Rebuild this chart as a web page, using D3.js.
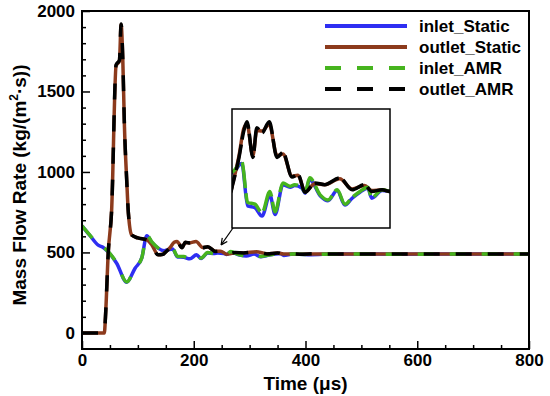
<!DOCTYPE html>
<html><head><meta charset="utf-8">
<script src="https://cdn.jsdelivr.net/npm/d3@7"></script>
<style>body{margin:0;background:#fff}svg{display:block}text{font-family:"Liberation Sans",Arial,sans-serif;font-weight:bold}</style>
</head><body><svg id="c" width="550" height="396"></svg>
<script>
// ---- data (time in µs, mass flow rate in kg/(m²·s)) ----
const inletAMR_t = [0,14,29,38,47,62,80,95,107,116,125,136,147,162,171,182,193,205,213,225,236,243,254,259,266,282,294,308,320,331,343,355,361,377,389,410,450,500,560,650,800];
const inletAMR_v = [665,608,547,532,505,435,317,404,466,608,565,528,512,524,476,474,464,489,465,499,495,497,494,488,505,485,479,491,474,482,489,494,482,491,489,487,490,491,489,490,490];
const inletStatic_t = [0,14,29,38,47,62,80,95,107,116,125,136,147,162,171,182,193,205,213,225,236,243,254,259,266,282,294,308,320,331,343,355,361,377,389,410,450,500,560,650,800];
const inletStatic_v = [665,606,545,531,503,433,315,402,466,604,563,527,511,522,472,470,460,485,462,497,494,496,493,487,503,484,478,490,473,481,488,493,481,490,489,486,490,490,489,490,490];
const outletAMR_t = [0,40,42,47,53,61,67,70,73,76,80,83,89,100,116,125,136,145,148,158,165,170,179,185,193,204,216,225,239,248,259,274,289,312,331,350,361,377,389,420,460,520,600,700,800];
const outletAMR_v = [0,0,100,500,760,1665,1695,1919,1700,1280,950,745,608,590,578,547,485,488,497,530,560,571,529,564,558,571,529,535,506,509,488,499,497,505,491,497,489,491,489,492,490,491,490,490,490];
const outletStatic_t = [0,40,42,47,53,61,67,70,73,76,80,83,89,100,116,125,136,145,148,158,165,170,179,185,193,204,216,225,239,248,259,274,289,312,331,350,361,377,389,420,460,520,600,700,800];
const outletStatic_v = [0,0,100,500,760,1660,1690,1915,1700,1280,950,745,608,590,578,547,486,489,498,532,563,568,531,561,560,568,531,533,507,508,489,498,497,504,492,496,490,491,489,491,490,491,490,490,490];
const xTicks = [0,200,400,600,800];
const yTicks = [0,500,1000,1500,2000];
const seriesNames = ["inlet_Static","outlet_Static","inlet_AMR","outlet_AMR"];

const zip = (t,v)=>t.map((d,i)=>[d,v[i]]);
const series = [
  {name:seriesNames[0], data:zip(inletStatic_t,inletStatic_v), color:"#2e2ef2", dash:null, idash:null},
  {name:seriesNames[1], data:zip(outletStatic_t,outletStatic_v), color:"#8c3a1c", dash:null, idash:null},
  {name:seriesNames[2], data:zip(inletAMR_t,inletAMR_v), color:"#46b41e", dash:"16,16", idash:"26,5"},
  {name:seriesNames[3], data:zip(outletAMR_t,outletAMR_v), color:"#000000", dash:"16,16", idash:"26,5"}
];

const svg = d3.select("#c");
const L=82,R=529,T=11,B=349;
const x = d3.scaleLinear().domain([0,800]).range([L,R]);
const y = d3.scaleLinear().domain([-100,2000]).range([B,T]);

svg.append("clipPath").attr("id","mainclip").append("rect").attr("x",L).attr("y",T).attr("width",R-L).attr("height",B-T);

const line = (xs,ys)=>d3.line().x(d=>xs(d[0])).y(d=>ys(d[1])).curve(d3.curveMonotoneX);

const g = svg.append("g").attr("clip-path","url(#mainclip)");
series.forEach(s=>{
  g.append("path").attr("d",line(x,y)(s.data)).attr("fill","none")
   .attr("stroke",s.color).attr("stroke-width",3.5).attr("stroke-dasharray",s.dash)
   .attr("stroke-linejoin","round");
});

// axes
const fs = "17px";
const xa = svg.append("g").attr("transform",`translate(0,${B})`)
  .call(d3.axisBottom(x).tickValues(xTicks).tickFormat(d3.format("d")).tickSizeInner(-8).tickSizeOuter(0).tickPadding(5));
svg.append("g").attr("transform",`translate(0,${B})`)
  .call(d3.axisBottom(x).tickValues(d3.range(50,800,50).filter(v=>v%200)).tickSizeInner(-4).tickSizeOuter(0).tickFormat(""));
const ya = svg.append("g").attr("transform",`translate(${L},0)`)
  .call(d3.axisLeft(y).tickValues(yTicks).tickFormat(d3.format("d")).tickSizeInner(-8).tickSizeOuter(0).tickPadding(7));
svg.append("g").attr("transform",`translate(${L},0)`)
  .call(d3.axisLeft(y).tickValues(d3.range(100,2000,100).filter(v=>v%500)).tickSizeInner(-4).tickSizeOuter(0).tickFormat(""));
svg.selectAll(".domain").remove();
svg.selectAll(".tick line").attr("stroke","#000").attr("stroke-width",1.5);
svg.selectAll(".tick text").attr("font-size",fs).attr("font-family","Liberation Sans, Arial, sans-serif").attr("font-weight","bold").attr("fill","#000");

svg.append("rect").attr("x",L).attr("y",T).attr("width",R-L).attr("height",B-T)
  .attr("fill","none").attr("stroke","#000").attr("stroke-width",2);

// titles
svg.append("text").attr("x",(L+R)/2).attr("y",390).attr("text-anchor","middle").attr("font-size","19px").text("Time (μs)");
const yt = svg.append("text").attr("transform","translate(26,185) rotate(-90)").attr("text-anchor","middle").attr("font-size","19px");
yt.append("tspan").text("Mass Flow Rate (kg/(m");
yt.append("tspan").attr("font-size","12px").attr("dy","-8").text("2");
yt.append("tspan").attr("dy","8").text("·s))");

// legend
const lg = svg.append("g");
series.forEach((s,i)=>{
  const yy = 26 + i*21;
  lg.append("line").attr("x1",325).attr("x2",407).attr("y1",yy).attr("y2",yy)
    .attr("stroke",s.color).attr("stroke-width",4).attr("stroke-dasharray",s.dash);
  lg.append("text").attr("x",419).attr("y",yy+6).attr("font-size",fs).text(s.name);
});

// inset
const IL=232,IR=390,IT=109,IB=228;
const xi = d3.scaleLinear().domain([147,389]).range([IL,IR]);
const yi = d3.scaleLinear().domain([446,586]).range([IB,IT]);
svg.append("rect").attr("x",IL).attr("y",IT).attr("width",IR-IL).attr("height",IB-IT).attr("fill","#fff");
svg.append("clipPath").attr("id","insetclip").append("rect").attr("x",IL).attr("y",IT).attr("width",IR-IL).attr("height",IB-IT);
const gi = svg.append("g").attr("clip-path","url(#insetclip)");
series.forEach(s=>{
  gi.append("path").attr("d",line(xi,yi)(s.data)).attr("fill","none")
   .attr("stroke",s.color).attr("stroke-width",3.5).attr("stroke-dasharray",s.idash)
   .attr("stroke-linejoin","round");
});
svg.append("rect").attr("x",IL).attr("y",IT).attr("width",IR-IL).attr("height",IB-IT)
  .attr("fill","none").attr("stroke","#000").attr("stroke-width",1.5);

// arrow
const tip = [x(249), y(547)];
const start = [IL+1, IB];
svg.append("line").attr("x1",start[0]).attr("y1",start[1]).attr("x2",tip[0]).attr("y2",tip[1]).attr("stroke","#000").attr("stroke-width",1.2);
const ang = Math.atan2(tip[1]-start[1], tip[0]-start[0]);
[0.45,-0.45].forEach(a=>{
  svg.append("line").attr("x1",tip[0]).attr("y1",tip[1])
    .attr("x2",tip[0]-7*Math.cos(ang+a)).attr("y2",tip[1]-7*Math.sin(ang+a))
    .attr("stroke","#000").attr("stroke-width",1.2);
});
</script></body></html>
